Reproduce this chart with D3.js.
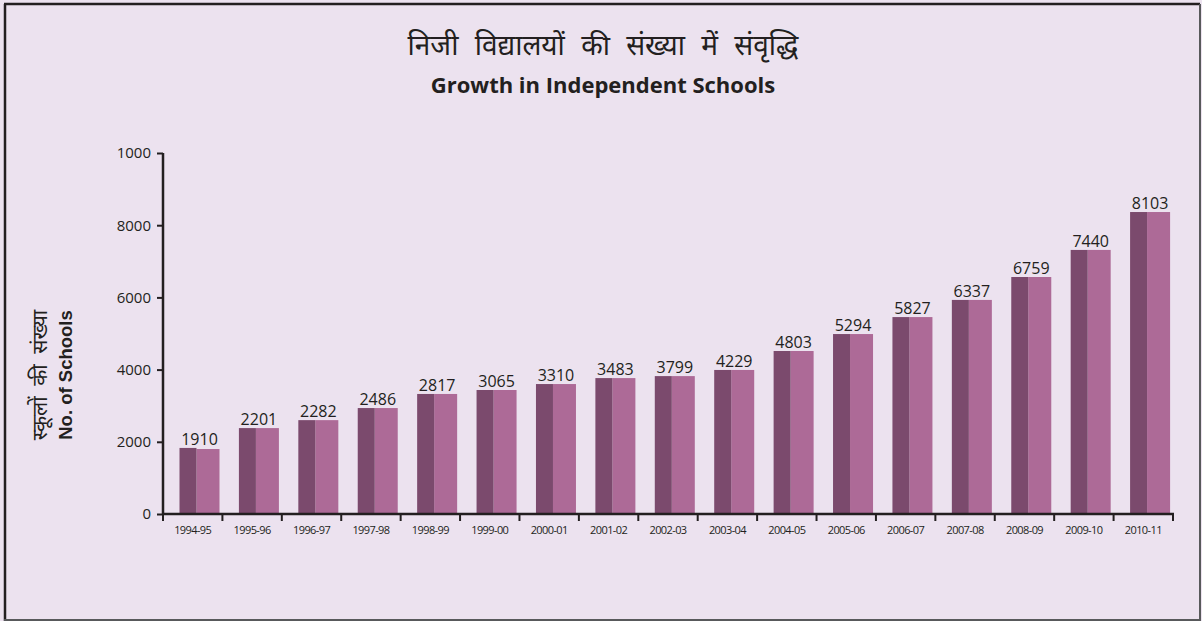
<!DOCTYPE html>
<html>
<head>
<meta charset="utf-8">
<script src="https://cdn.jsdelivr.net/npm/d3@7"></script>
<style>
  body { margin: 0; background: #fff; }
  svg text { fill: #231f20; }
</style>
</head>
<body>
<svg id="chart" width="1202" height="621"></svg>
<script>
// years on the x axis
var years = ["1994-95", "1995-96", "1996-97", "1997-98", "1998-99", "1999-00", "2000-01",
  "2001-02", "2002-03", "2003-04", "2004-05", "2005-06", "2006-07", "2007-08",
  "2008-09", "2009-10", "2010-11"];

// numbers printed above the bars
var labels = [1910, 2201, 2282, 2486, 2817, 3065, 3310, 3483, 3799, 4229, 4803, 5294,
  5827, 6337, 6759, 7440, 8103];

// bar heights as drawn in the picture (dark face / light face)
var darkValues = [1830, 2380, 2600, 2935, 3325, 3435, 3600, 3765, 3820, 3990, 4515, 4985,
  5455, 5930, 6565, 7315, 8365];
var lightValues = [1800, 2380, 2600, 2935, 3325, 3435, 3600, 3765, 3820, 3990, 4515, 4985,
  5455, 5930, 6565, 7315, 8365];

// y ticks (top one is printed as 1000 in the original)
var yTicks = [0, 2000, 4000, 6000, 8000, 10000];
var yTickLabels = ["0", "2000", "4000", "6000", "8000", "1000"];

var svg = d3.select("#chart");

// background + frame
svg.append("rect")
  .attr("x", 0).attr("y", 0)
  .attr("width", 1202).attr("height", 621)
  .attr("fill", "#ece2ef");

svg.append("line").attr("x1", 4).attr("y1", 4).attr("x2", 1200).attr("y2", 4)
  .attr("stroke", "#231f20").attr("stroke-width", 2.5);
svg.append("line").attr("x1", 5).attr("y1", 4).attr("x2", 5).attr("y2", 621)
  .attr("stroke", "#231f20").attr("stroke-width", 2.5);
svg.append("line").attr("x1", 1200).attr("y1", 4).attr("x2", 1200).attr("y2", 621)
  .attr("stroke", "#58595b").attr("stroke-width", 2);
svg.append("line").attr("x1", 4).attr("y1", 620).attr("x2", 1201).attr("y2", 620)
  .attr("stroke", "#58595b").attr("stroke-width", 2);

// titles
svg.append("text")
  .attr("x", 603).attr("y", 55)
  .attr("text-anchor", "middle")
  .style("font-family", "'Noto Sans', 'Noto Sans Devanagari', sans-serif")
  .style("font-size", "28px")
  .style("word-spacing", "9px")
  .text("निजी विद्यालयों की संख्या में संवृद्धि");

svg.append("text")
  .attr("x", 603).attr("y", 93)
  .attr("text-anchor", "middle")
  .style("font-family", "'Open Sans', sans-serif")
  .style("font-weight", "bold")
  .style("font-size", "22px")
  .text("Growth in Independent Schools");

// scales
var x = d3.scaleBand()
  .domain(years)
  .range([163, 1173])
  .padding(0);

var y = d3.scaleLinear()
  .domain([0, 10000])
  .range([514, 153]);

var barOffset = 16.5, barWidth = 40, darkWidth = 17;

// bars
var bars = svg.append("g").selectAll("g")
  .data(years)
  .enter()
  .append("g");

bars.append("rect")
  .attr("x", (d, i) => x(d) + barOffset + darkWidth)
  .attr("y", (d, i) => y(lightValues[i]))
  .attr("width", barWidth - darkWidth)
  .attr("height", (d, i) => y(0) - y(lightValues[i]))
  .attr("fill", "#ad6a97");

bars.append("rect")
  .attr("x", (d, i) => x(d) + barOffset)
  .attr("y", (d, i) => y(darkValues[i]))
  .attr("width", darkWidth)
  .attr("height", (d, i) => y(0) - y(darkValues[i]))
  .attr("fill", "#7b4a6d");

bars.append("text")
  .attr("x", (d, i) => x(d) + barOffset + barWidth / 2)
  .attr("y", (d, i) => y(Math.max(darkValues[i], lightValues[i])) - 3)
  .attr("text-anchor", "middle")
  .style("font-family", "'Open Sans', sans-serif")
  .style("font-size", "16px")
  .text((d, i) => labels[i]);

// y axis
var yAxis = d3.axisLeft(y)
  .tickValues(yTicks)
  .tickFormat((d, i) => yTickLabels[i])
  .tickSize(6)
  .tickPadding(6);

var yG = svg.append("g")
  .attr("transform", "translate(163,0)")
  .call(yAxis);
yG.select(".domain").attr("stroke", "#231f20").attr("stroke-width", 2.5)
  .attr("d", "M0,153V514");
yG.selectAll(".tick line").attr("stroke", "#231f20").attr("stroke-width", 2);
yG.selectAll(".tick text")
  .style("font-family", "'Open Sans', sans-serif")
  .style("font-size", "15px")
  .attr("fill", "#231f20");

// x axis: labels centred in bands, ticks on band edges
var xAxis = d3.axisBottom(x).tickSize(0).tickPadding(12);
var xG = svg.append("g")
  .attr("transform", "translate(0,514)")
  .call(xAxis);
xG.select(".domain").attr("stroke", "#231f20").attr("stroke-width", 2.5)
  .attr("d", "M162,0H1174");
xG.selectAll(".tick text")
  .style("font-family", "'Open Sans', sans-serif")
  .style("font-size", "11px")
  .style("letter-spacing", "-0.6px")
  .attr("fill", "#231f20");

var edges = years.map(d => x(d)).concat([x(years[years.length - 1]) + x.bandwidth()]);
xG.selectAll(".edge")
  .data(edges)
  .enter()
  .append("line")
  .attr("class", "edge")
  .attr("x1", d => d).attr("x2", d => d)
  .attr("y1", 0).attr("y2", 7)
  .attr("stroke", "#231f20")
  .attr("stroke-width", 2);

// y axis title
var yTitle = svg.append("g")
  .attr("transform", "translate(0,375) rotate(-90)");
yTitle.append("text")
  .attr("x", 0).attr("y", 47)
  .attr("text-anchor", "middle")
  .style("font-family", "'Noto Sans', sans-serif")
  .style("font-size", "21px")
  .style("word-spacing", "5px")
  .attr("fill", "#3a3a3a")
  .text("स्कूलों की संख्या");
yTitle.append("text")
  .attr("x", 0).attr("y", 72)
  .attr("text-anchor", "middle")
  .style("font-family", "'Liberation Sans', Arial, sans-serif")
  .style("font-weight", "bold")
  .style("font-size", "18.5px")
  .text("No. of Schools");
</script>
</body>
</html>
